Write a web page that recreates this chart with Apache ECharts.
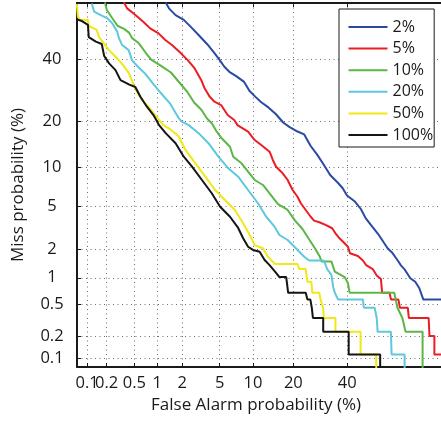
<!DOCTYPE html>
<html>
<head>
<meta charset="utf-8">
<script src="https://cdn.jsdelivr.net/npm/echarts@6/dist/echarts.min.js"></script>
<style>
  html, body { margin: 0; padding: 0; background: #fff; }
  #content { width: 441px; height: 423px; }
</style>
</head>
<body>
<div id="content"></div>
<script>
// DET curves, values in percent: [false alarm %, miss %]
var seriesNames = ["2%", "5%", "10%", "20%", "50%", "100%"];
var seriesColors = ["#2a4aa2", "#ec1c24", "#5cb646", "#5ec8dc", "#f0e817", "#151515"];

var det2 = [[1.275, 61.2], [1.397, 59.1], [1.676, 56.6], [2.086, 54.8], [2.58, 51.7], [3.04, 49.1], [3.73, 45.7],
    [4.44, 42.3], [4.97, 39.9], [5.55, 37.3], [6.18, 35.5], [7.15, 34.0], [8.41, 32.0], [9.36, 28.95], [10.49, 27.1],
    [11.6, 25.5], [13.27, 23.9], [15.08, 22.0], [17.05, 19.69], [18.9, 18.5], [21.3, 17.4], [23.49, 16.7], [25.71, 14.1],
    [28.1, 12.3], [30.58, 10.45], [33.0, 8.83], [35.99, 7.75], [38.02, 7.02], [39.89, 6.11], [43.25, 5.45], [45.81, 4.71],
    [47.95, 3.9], [50.75, 3.28], [53.33, 2.8], [55.98, 2.28], [57.38, 2.04], [59.27, 1.85], [61.68, 1.53], [62.9, 1.37],
    [64.4, 1.243], [66.79, 0.99], [68.72, 0.904], [70.24, 0.77], [71.78, 0.565], [79, 0.565]];

var det5 = [[0.356, 61.5], [0.397, 59.1], [0.485, 57.3], [0.66, 54.1], [0.813, 51.6], [1.041, 49.7], [1.261, 47.2],
    [1.517, 45.3], [1.855, 42.8], [2.31, 39.7], [2.76, 36.7], [3.25, 32.6], [3.52, 29.86], [3.96, 27.2], [4.44, 25.6],
    [5.16, 24.6], [5.55, 23.14], [5.96, 21.7], [6.86, 20.35], [7.35, 19.0], [7.71, 18.6], [9.09, 17.36], [10.33, 15.41],
    [11.67, 14.31], [13.55, 12.92], [14.34, 11.34], [15.15, 10.16], [16.92, 9.09], [18.31, 8.1], [19.78, 6.77],
    [21.3, 5.97], [22.36, 5.27], [24.0, 4.62], [25.71, 4.03], [26.9, 3.72], [28.83, 3.6], [31.2, 3.4], [33.8, 3.17],
    [35.1, 2.845], [36.47, 2.595], [38.23, 2.363], [40.3, 2.11], [41.14, 1.813], [44.52, 1.7], [46.7, 1.53], [48.1, 1.37],
    [50.96, 1.243], [52.7, 1.06], [54.53, 0.97], [55.04, 0.678], [58.2, 0.678], [58.85, 0.565], [61.97, 0.565],
    [62.58, 0.452], [65.8, 0.452], [66.2, 0.339], [73.7, 0.339], [74.0, 0.2], [75.7, 0.2], [75.7, 0.113], [79, 0.113]];

var det10 = [[0.189, 61.2], [0.2017, 58.5], [0.239, 55.7], [0.29, 52.6], [0.3596, 51.4], [0.422, 50.0], [0.47, 47.8],
    [0.577, 45.96], [0.707, 42.5], [0.837, 39.9], [1.118, 37.6], [1.476, 35.25], [1.855, 31.8], [2.31, 28.5], [2.72, 25.36],
    [3.27, 23.14], [3.71, 20.8], [4.17, 19.5], [4.68, 17.36], [5.23, 15.8], [6.27, 13.95], [6.72, 11.95], [7.97, 10.75],
    [9.09, 9.35], [10.33, 8.1], [12.04, 7.41], [13.55, 6.37], [15.59, 5.2], [18.31, 4.62], [20.53, 3.72], [22.91, 3.12],
    [25.09, 2.51], [27.38, 2.0], [29.09, 1.66], [29.68, 1.49], [33.52, 1.49], [34.86, 1.165], [38.93, 1.017], [40.3, 0.87],
    [41.0, 0.678], [60.2, 0.678], [60.85, 0.565], [61.55, 0.452], [63.6, 0.339], [64.9, 0.226], [71.5, 0.226], [71.5, 0]];

var det20 = [[0.1185, 60.9], [0.1287, 57.9], [0.163, 56.6], [0.205, 55.4], [0.243, 53.5], [0.287, 50.3], [0.305, 47.8],
    [0.338, 45.3], [0.418, 43.4], [0.4656, 39.6], [0.561, 37.3], [0.707, 34.7], [0.88, 31.53], [1.118, 28.24],
    [1.436, 25.12], [1.645, 22.65], [1.83, 20.8], [1.98, 19.9], [2.372, 19.0], [3.04, 17.0], [3.86, 14.7], [4.86, 11.95],
    [6.05, 9.9], [7.45, 8.58], [9.09, 6.77], [10.99, 5.27], [12.77, 4.03], [14.77, 3.28], [16.03, 2.74], [18.31, 2.455],
    [20.78, 2.04], [23.49, 1.675], [25.16, 1.53], [30.51, 1.53], [31.84, 1.243], [33.52, 1.073], [34.19, 0.791],
    [34.86, 0.678], [36.19, 0.565], [46.7, 0.565], [47.1, 0.452], [51.8, 0.452], [52.7, 0.339], [53.1, 0.226],
    [58.8, 0.226], [59.1, 0.113], [64.5, 0.113], [64.5, 0]];

var det50 = [[0.068, 60.7], [0.071, 55.9], [0.0765, 54.9], [0.103, 54.8], [0.106, 52.5], [0.1415, 51.0], [0.1535, 48.3],
    [0.1825, 45.96], [0.2166, 43.4], [0.2564, 41.6], [0.3026, 39.7], [0.356, 37.6], [0.418, 35.1], [0.4895, 30.96],
    [0.544, 28.65], [0.634, 26.1], [0.773, 24.1], [0.941, 21.7], [1.193, 19.0], [1.397, 18.2], [1.83, 16.2], [2.18, 13.28],
    [2.81, 10.75], [3.58, 8.58], [4.51, 6.77], [5.63, 5.61], [6.96, 4.62], [8.24, 3.52], [9.4, 2.74], [10.33, 2.19],
    [12.04, 2.04], [13.16, 1.675], [14.83, 1.41], [21.3, 1.41], [21.85, 1.243], [24.0, 1.243], [24.58, 0.904],
    [25.95, 0.904], [26.3, 0.678], [28.8, 0.678], [29.3, 0.565], [30.3, 0.452], [30.5, 0.339], [35.1, 0.339],
    [35.1, 0.226], [45.7, 0.226], [45.7, 0.113], [52.5, 0.113], [52.5, 0]];

var det100 = [[0.068, 55.0], [0.08, 54.5], [0.103, 52.9], [0.106, 48.3], [0.137, 46.6], [0.169, 45.7], [0.184, 41.2],
    [0.218, 38.5], [0.271, 36.1], [0.32, 32.6], [0.427, 31.1], [0.516, 30.3], [0.602, 27.2], [0.737, 24.1], [0.896, 21.7],
    [1.056, 19.0], [1.275, 17.0], [1.676, 14.7], [2.086, 11.95], [2.58, 10.16], [3.3, 8.1], [4.17, 6.37], [5.05, 4.93],
    [6.27, 4.03], [7.45, 3.19], [8.24, 2.55], [9.09, 2.11], [10.0, 1.96], [11.33, 1.88], [12.41, 1.55], [13.55, 1.37],
    [15.15, 1.13], [16.03, 1.017], [17.9, 1.017], [18.46, 0.678], [24.0, 0.678], [24.58, 0.565], [25.6, 0.565],
    [26.1, 0.452], [26.5, 0.339], [30.3, 0.339], [30.3, 0.226], [40.6, 0.226], [40.6, 0.113], [54.2, 0.113], [54.2, 0]];

var allCurves = [det2, det5, det10, det20, det50, det100];

var xTicks = [0.1, 0.2, 0.5, 1, 2, 5, 10, 20, 40];
var yTicks = [0.1, 0.2, 0.5, 1, 2, 5, 10, 20, 40];
var xRange = [0.0685, 77.9];
var yRange = [0.0755, 61.06];

var FONT = "Open Sans";
var INK = "#1a1a1a";

// inverse normal CDF (Acklam), used for the normal-deviate (probit) axes
function probit(p) {
    if (p <= 0) return -8;
    if (p >= 1) return 8;
    var a = [-39.69683028665376, 220.9460984245205, -275.9285104469687, 138.3577518672690, -30.66479806614716, 2.506628277459239];
    var b = [-54.47609879822406, 161.5858368580409, -155.6989798598866, 66.80131188771972, -13.28068155288572];
    var c = [-0.007784894002430293, -0.3223964580411365, -2.400758277161838, -2.549732539343734, 4.374664141464968, 2.938163982698783];
    var d = [0.007784695709041462, 0.3224671290700398, 2.445134137142996, 3.754408661907416];
    var q, r;
    if (p < 0.02425) {
        q = Math.sqrt(-2 * Math.log(p));
        return (((((c[0] * q + c[1]) * q + c[2]) * q + c[3]) * q + c[4]) * q + c[5]) /
            ((((d[0] * q + d[1]) * q + d[2]) * q + d[3]) * q + 1);
    }
    if (p <= 1 - 0.02425) {
        q = p - 0.5;
        r = q * q;
        return (((((a[0] * r + a[1]) * r + a[2]) * r + a[3]) * r + a[4]) * r + a[5]) * q /
            (((((b[0] * r + b[1]) * r + b[2]) * r + b[3]) * r + b[4]) * r + 1);
    }
    q = Math.sqrt(-2 * Math.log(1 - p));
    return -(((((c[0] * q + c[1]) * q + c[2]) * q + c[3]) * q + c[4]) * q + c[5]) /
        ((((d[0] * q + d[1]) * q + d[2]) * q + d[3]) * q + 1);
}

function pz(pct) { return probit(pct / 100); }

function tickFormatter(ticks) {
    return function(v) {
        for (var i = 0; i < ticks.length; i++) {
            if (Math.abs(pz(ticks[i]) - v) < 1e-6) return String(ticks[i]);
        }
        return "";
    };
}

var xTickVals = xTicks.map(pz);
var yTickVals = yTicks.map(pz);

var gridDots = { color: "#6e6e6e", width: 1, type: [1, 3.5] };
var tickFont = { fontFamily: FONT, fontSize: 16.5, color: INK };

var series = [];
for (var i = 0; i < allCurves.length; i++) {
    series.push({
        type: "line",
        name: seriesNames[i],
        xAxisIndex: 0,
        yAxisIndex: 0,
        symbol: "none",
        clip: true,
        data: allCurves[i].map(function(pt) { return [pz(pt[0]), pz(pt[1])]; }),
        lineStyle: { color: seriesColors[i], width: 2 },
        itemStyle: { color: seriesColors[i] },
        emphasis: { disabled: true }
    });
}

var myChart = echarts.init(document.getElementById("content"), null, { renderer: "canvas" });
myChart.setOption({
    animation: false,
    backgroundColor: "#fff",
    grid: { left: 77, top: 3, width: 368, height: 364, containLabel: false },
    legend: {
        orient: "vertical",
        left: 339,
        top: 9,
        itemWidth: 39,
        itemHeight: 14,
        itemGap: 5.6,
        padding: [10, 1, 4, 8.5],
        backgroundColor: "#fff",
        borderColor: INK,
        borderWidth: 1,
        borderRadius: 0,
        selectedMode: false,
        itemStyle: { opacity: 0 },   // line only, no marker
        lineStyle: { width: 2 },
        textStyle: { fontFamily: FONT, fontSize: 16, color: INK },
        data: seriesNames
    },
    xAxis: [{
        type: "value",
        position: "bottom",
        min: pz(xRange[0]),
        max: pz(xRange[1]),
        name: "False Alarm probability (%)",
        nameLocation: "middle",
        nameGap: 18,
        nameTextStyle: { fontFamily: FONT, fontSize: 17, color: INK, padding: [0, 6, 0, 0] },
        axisLine: { show: true, onZero: false, lineStyle: { color: INK, width: 2 } },
        axisTick: { show: true, inside: true, length: 4, customValues: xTickVals, lineStyle: { color: INK, width: 1 } },
        // 0.1 is labelled by the helper axis below so the crowded labels are not dropped
        axisLabel: Object.assign({ customValues: xTickVals.slice(1), formatter: tickFormatter(xTicks), margin: 8,
            showMinLabel: true, showMaxLabel: true, hideOverlap: false }, tickFont),
        splitLine: { show: true, lineStyle: gridDots }
    }, {
        // top border with its ticks
        type: "value",
        position: "top",
        min: pz(xRange[0]),
        max: pz(xRange[1]),
        axisLine: { show: true, onZero: false, lineStyle: { color: INK, width: 2 } },
        axisTick: { show: true, inside: true, length: 4, customValues: xTickVals, lineStyle: { color: INK, width: 1 } },
        axisLabel: { show: false },
        splitLine: { show: false }
    }, {
        type: "value",
        position: "bottom",
        min: pz(xRange[0]),
        max: pz(xRange[1]),
        axisLine: { show: false, onZero: false },
        axisTick: { show: false },
        axisLabel: Object.assign({ customValues: xTickVals.slice(0, 1), formatter: tickFormatter(xTicks), margin: 8,
            showMinLabel: true, showMaxLabel: true }, tickFont),
        splitLine: { show: false }
    }],
    yAxis: [{
        type: "value",
        min: pz(yRange[0]),
        max: pz(yRange[1]),
        name: "Miss probability (%)",
        nameLocation: "middle",
        nameGap: 50,
        nameTextStyle: { fontFamily: FONT, fontSize: 17, color: INK },
        axisLine: { show: true, onZero: false, lineStyle: { color: INK, width: 2 } },
        axisTick: { show: true, inside: true, length: 4, customValues: yTickVals, lineStyle: { color: INK, width: 1 } },
        axisLabel: Object.assign({ customValues: yTickVals, formatter: tickFormatter(yTicks), align: "center", margin: 25,
            showMinLabel: true, showMaxLabel: true, hideOverlap: false }, tickFont),
        splitLine: { show: true, lineStyle: gridDots }
    }],
    series: series
});
</script>
</body>
</html>
